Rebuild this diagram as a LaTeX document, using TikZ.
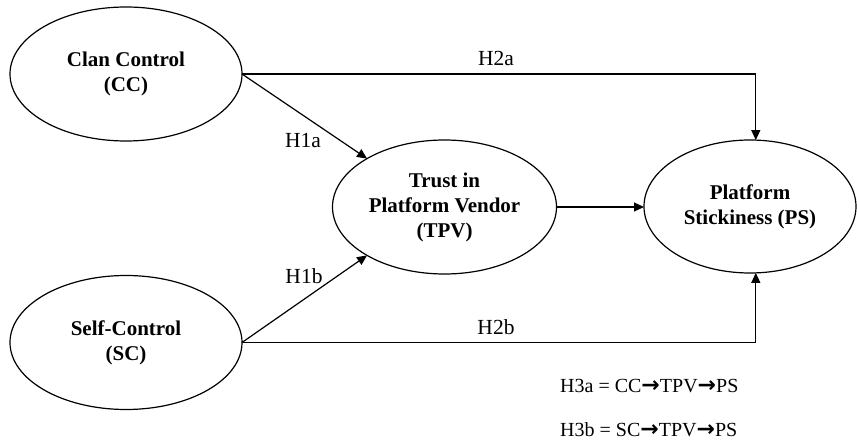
\documentclass[tikz,border=0pt]{standalone}
\usepackage{fontspec}
\setmainfont{Liberation Serif}
\newfontfamily\symfont{DejaVu Sans}
\usetikzlibrary{shapes.geometric,arrows.meta}
\newcommand{\hyparrow}{{\symfont\bfseries\fontsize{22}{24}\selectfont →}}
\tikzset{
	construct/.style={ellipse, draw, line width=1.2pt, minimum width=232pt, minimum height=134pt,
		inner sep=0pt, outer sep=0pt, align=center, font=\fontsize{21}{25}\selectfont\bfseries},
	path/.style={line width=1.2pt, -{Triangle[length=10pt,width=9pt]}},
	hyp/.style={font=\fontsize{21.5}{24}\selectfont},
	note/.style={anchor=base west, inner sep=0pt, font=\fontsize{20}{24}\selectfont},
}

\begin{document}
\begin{tikzpicture}[x=1pt, y=-1pt]
			\useasboundingbox (0, 0) rectangle (857, 443);
			\node[construct] (cc) at (126, 74) {Clan Control\\(CC)};
			\node[construct] (sc) at (126, 342.5) {Self-Control\\(SC)};
			\node[construct, minimum width=224pt] (tpv) at (444.5, 207) {Trust in\\Platform Vendor\\(TPV)};
			\node[construct, minimum width=212pt, minimum height=133pt] (ps) at (750, 206.5) {Platform\\Stickiness (PS)};
			\draw[path] (cc.east) -| (ps.85);
			\draw[path] (sc.east) -| (ps.275);
			\draw[path] (cc.east) -- (tpv.148);
			\draw[path] (sc.east) -- (tpv.212);
			\draw[path] (tpv.east) -- (tpv.east -| ps.west);
			\node[hyp] (h2a) at (496, 58) {H2a};
			\node[hyp] (h2b) at (496, 327) {H2b};
			\node[hyp] (h1a) at (303, 141) {H1a};
			\node[hyp] (h1b) at (304, 276) {H1b};
			\node[note] (h3a) at (560, 393) {H3a = CC\hyparrow TPV\hyparrow PS};
			\node[note] (h3b) at (560, 436) {H3b = SC\hyparrow TPV\hyparrow PS};
		\end{tikzpicture}
\end{document}
